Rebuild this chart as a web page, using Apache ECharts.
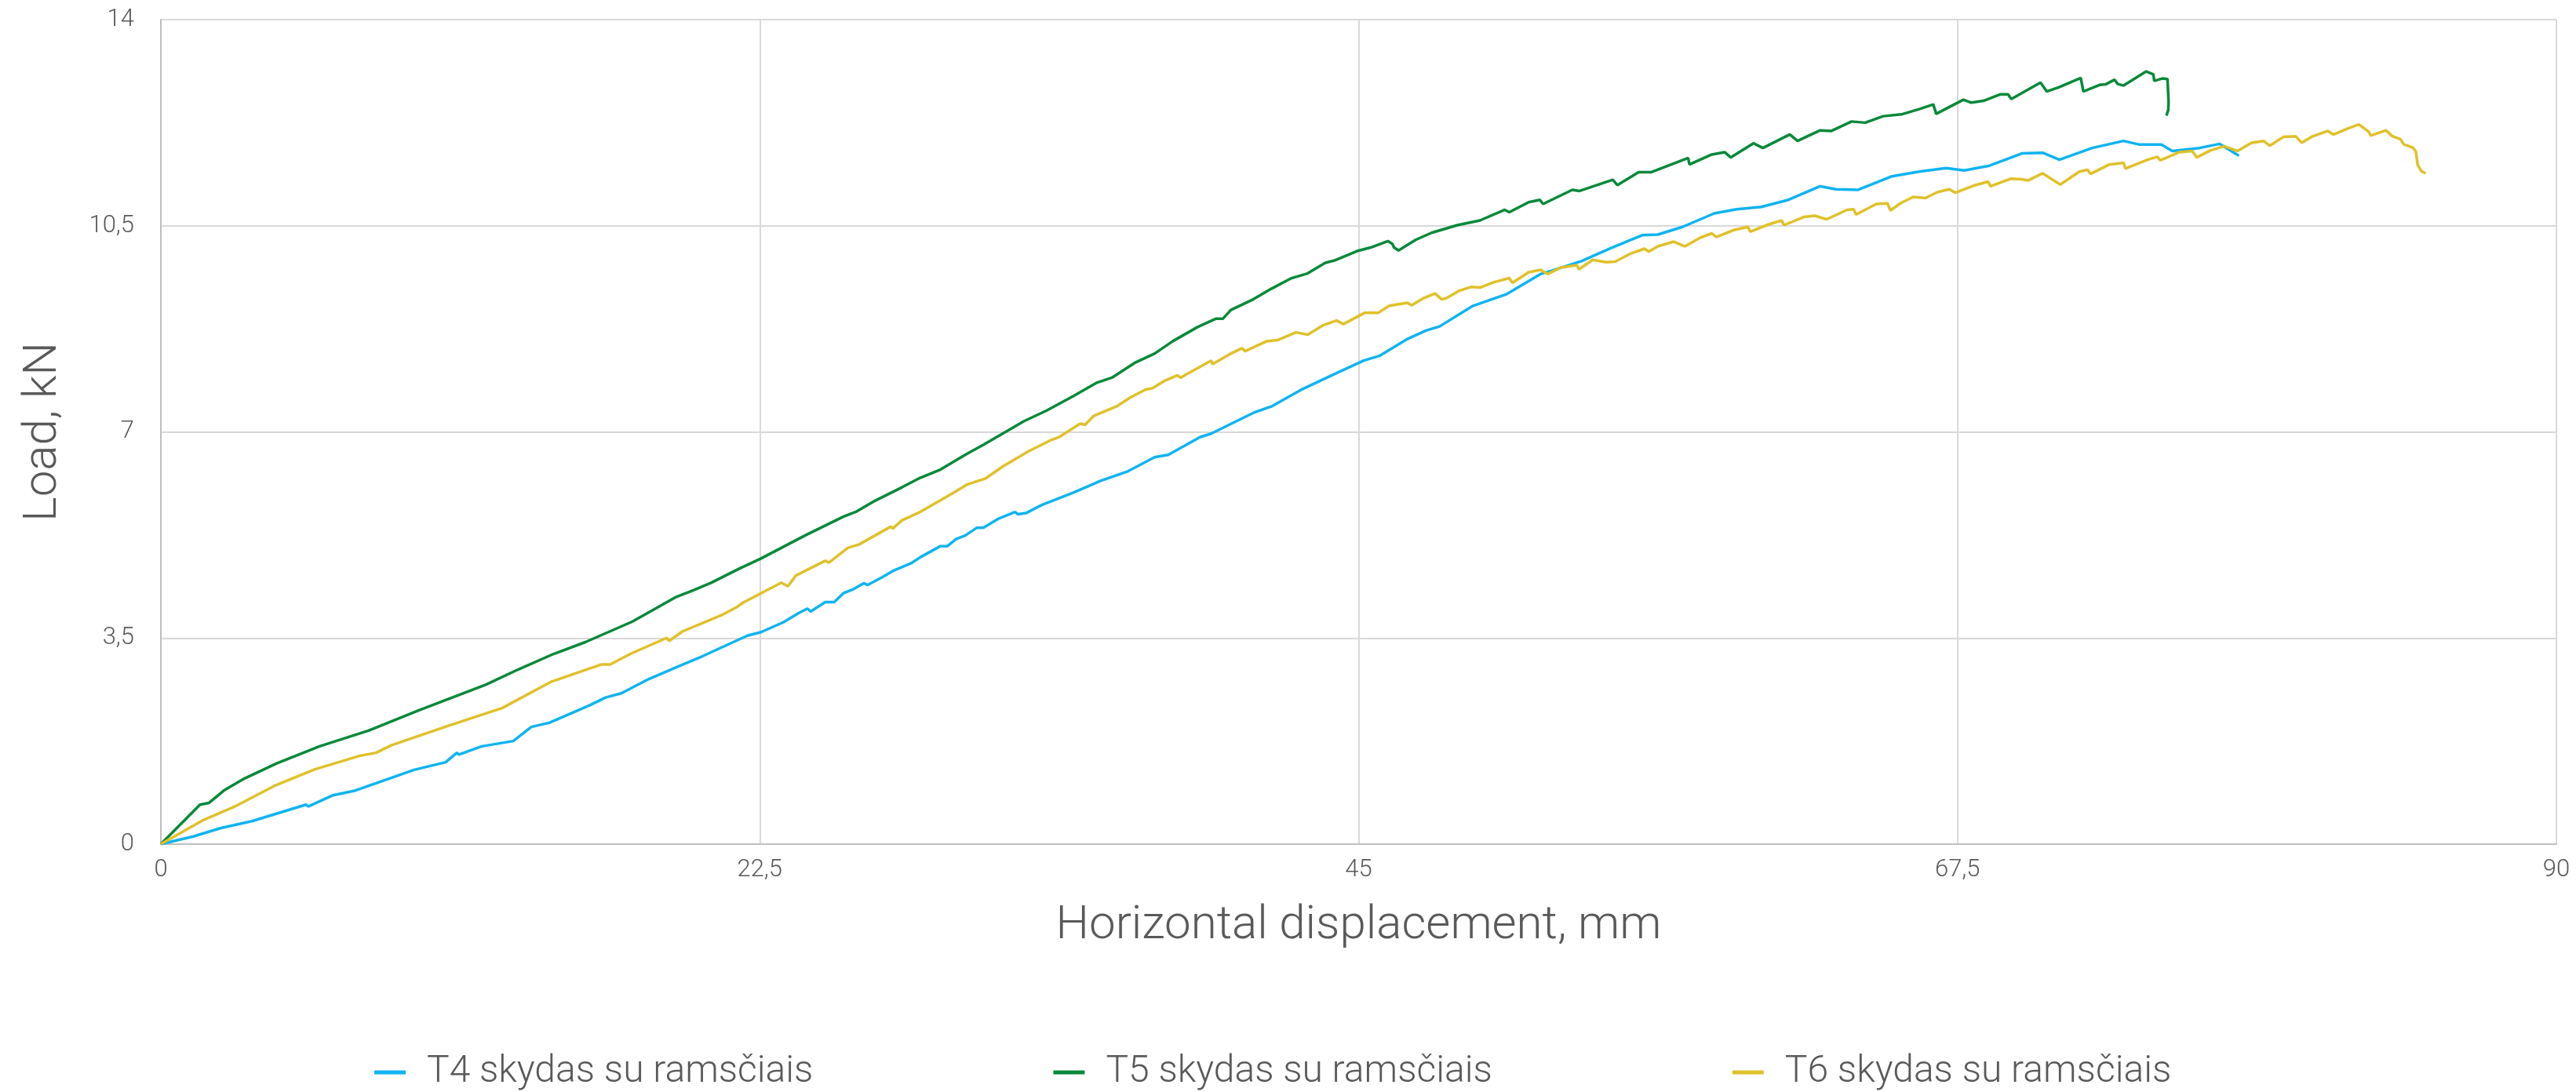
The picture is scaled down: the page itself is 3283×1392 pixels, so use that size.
<!DOCTYPE html>
<html>
<head>
<meta charset="utf-8">
<script src="https://cdn.jsdelivr.net/npm/echarts@6/dist/echarts.min.js"></script>
<style>
  html, body { margin: 0; padding: 0; background: #fff; }
  #chart { width: 3283px; height: 1392px; }
</style>
</head>
<body>
<div id="chart"></div>
<script>
const seriesNames = ['T4 skydas su ramsčiais', 'T5 skydas su ramsčiais', 'T6 skydas su ramsčiais'];
const xTicks = [0, 22.5, 45, 67.5, 90];
const yTicks = [0, 3.5, 7, 10.5, 14];

// [displacement mm, load kN]
const t4 = [[0,0],[1.22,0.13],[2.23,0.27],[3.42,0.39],[5.45,0.67],[5.55,0.64],[6.47,0.83],[7.31,0.91],[9.51,1.26],[10.7,1.39],[11.12,1.55],[11.2,1.52],[12.05,1.66],[13.24,1.75],[13.92,1.99],[14.59,2.06],[16.12,2.36],[16.71,2.49],[17.3,2.56],[18.32,2.8],[19.5,3.03],[20.35,3.19],[21.02,3.33],[22.04,3.54],[22.55,3.6],[23.4,3.77],[23.95,3.92],[24.29,4.0],[24.41,3.95],[24.96,4.11],[25.3,4.11],[25.64,4.26],[25.98,4.32],[26.41,4.43],[26.55,4.4],[27.09,4.53],[27.51,4.64],[28.19,4.77],[28.53,4.87],[29.29,5.06],[29.55,5.06],[29.88,5.18],[30.22,5.24],[30.65,5.37],[30.9,5.37],[31.49,5.53],[32.09,5.64],[32.2,5.6],[32.5,5.62],[33.1,5.76],[34.29,5.97],[35.31,6.17],[36.33,6.33],[37.34,6.57],[37.85,6.61],[39.04,6.91],[39.46,6.97],[41.08,7.33],[41.72,7.43],[42.82,7.71],[44.09,7.98],[45.19,8.21],[45.78,8.29],[46.8,8.57],[47.53,8.72],[48.04,8.79],[49.3,9.14],[50.57,9.34],[51.84,9.68],[52.27,9.74],[53.37,9.9],[54.47,10.12],[55.65,10.34],[56.24,10.35],[57.17,10.48],[58.36,10.71],[59.2,10.78],[60.13,10.82],[61.15,10.94],[62.34,11.17],[62.93,11.12],[63.77,11.11],[65.04,11.34],[66.06,11.42],[67.07,11.48],[67.75,11.44],[68.7,11.52],[69.94,11.73],[70.7,11.74],[71.33,11.62],[72.56,11.82],[73.74,11.94],[74.31,11.88],[75.16,11.88],[75.57,11.77],[76.59,11.82],[77.35,11.89],[77.68,11.8],[78.07,11.69]];

const t5 = [[0,0],[1.47,0.67],[1.81,0.7],[2.4,0.92],[3.08,1.1],[4.35,1.37],[5.96,1.66],[7.82,1.93],[9.68,2.27],[12.22,2.71],[13.4,2.96],[14.76,3.23],[15.95,3.43],[17.72,3.78],[19.33,4.19],[20.01,4.31],[20.69,4.44],[21.7,4.67],[22.55,4.85],[24.2,5.24],[25.64,5.56],[26.15,5.65],[26.83,5.83],[27.85,6.06],[28.53,6.22],[29.29,6.36],[30.22,6.61],[30.9,6.78],[31.74,7.0],[32.42,7.18],[33.27,7.36],[34.29,7.61],[35.14,7.83],[35.73,7.92],[36.58,8.17],[37.34,8.33],[38.02,8.54],[38.95,8.78],[39.63,8.92],[39.9,8.92],[40.2,9.07],[41.04,9.25],[41.72,9.43],[42.48,9.61],[43.08,9.69],[43.75,9.87],[44.09,9.91],[44.94,10.07],[45.45,10.13],[46.1,10.24],[46.27,10.19],[46.33,10.13],[46.5,10.08],[47.14,10.26],[47.74,10.38],[48.71,10.51],[49.56,10.59],[50.49,10.77],[50.66,10.73],[51.39,10.9],[51.81,10.94],[51.93,10.87],[53.03,11.11],[53.3,11.09],[54.55,11.28],[54.72,11.19],[55.52,11.41],[56.0,11.41],[57.38,11.65],[57.43,11.54],[58.27,11.71],[58.75,11.75],[58.98,11.66],[59.83,11.9],[60.19,11.82],[61.2,12.05],[61.49,11.94],[62.34,12.12],[62.76,12.11],[63.52,12.27],[64.03,12.25],[64.71,12.36],[65.39,12.39],[66.06,12.48],[66.59,12.56],[66.7,12.4],[67.72,12.64],[68.02,12.59],[68.47,12.62],[69.1,12.73],[69.4,12.73],[69.52,12.65],[70.62,12.93],[70.85,12.78],[71.3,12.85],[72.13,13.01],[72.23,12.78],[72.83,12.89],[73.06,12.9],[73.4,12.98],[73.51,12.91],[73.74,12.88],[74.59,13.12],[74.86,13.07],[74.89,12.96],[75.19,13.0],[75.39,12.99],[75.43,12.6],[75.42,12.47],[75.35,12.37]];

const t6 = [[0,0],[1.56,0.4],[2.74,0.63],[4.27,0.99],[5.79,1.27],[7.48,1.5],[8.08,1.55],[8.67,1.68],[10.87,2.02],[12.82,2.31],[14.68,2.76],[16.54,3.05],[16.88,3.05],[17.64,3.23],[19.0,3.5],[19.1,3.45],[19.59,3.61],[21.03,3.88],[21.62,4.02],[21.87,4.1],[22.55,4.26],[23.31,4.44],[23.56,4.38],[23.86,4.56],[24.96,4.81],[25.1,4.78],[25.81,5.03],[26.24,5.09],[27.42,5.39],[27.5,5.36],[27.85,5.5],[28.53,5.64],[29.8,5.97],[30.31,6.11],[30.99,6.21],[31.66,6.42],[32.6,6.67],[33.44,6.86],[33.78,6.92],[34.54,7.14],[34.72,7.12],[35.05,7.27],[35.9,7.43],[36.41,7.58],[37.0,7.72],[37.25,7.74],[37.68,7.86],[38.19,7.96],[38.32,7.92],[38.5,7.97],[39.46,8.21],[39.51,8.15],[40.2,8.33],[40.62,8.42],[40.74,8.37],[41.55,8.54],[41.97,8.56],[42.65,8.69],[43.08,8.65],[43.67,8.81],[44.17,8.89],[44.43,8.83],[45.22,9.02],[45.73,9.02],[46.15,9.14],[46.83,9.19],[47.0,9.15],[47.44,9.27],[47.87,9.35],[48.12,9.25],[48.3,9.27],[48.8,9.4],[49.22,9.46],[49.56,9.45],[50.07,9.54],[50.66,9.61],[50.78,9.53],[51.39,9.71],[51.84,9.75],[52.1,9.68],[52.6,9.79],[53.2,9.83],[53.28,9.76],[53.79,9.92],[54.3,9.88],[54.64,9.89],[55.23,10.03],[55.74,10.11],[55.9,10.06],[56.24,10.15],[56.84,10.23],[57.26,10.15],[57.85,10.3],[58.27,10.37],[58.44,10.31],[59.12,10.43],[59.63,10.48],[59.71,10.4],[60.39,10.52],[60.9,10.59],[60.98,10.51],[61.74,10.65],[62.13,10.67],[62.59,10.61],[63.35,10.77],[63.6,10.78],[63.69,10.69],[64.45,10.87],[64.87,10.88],[64.98,10.76],[65.39,10.89],[65.84,10.99],[66.29,10.97],[66.74,11.07],[67.19,11.12],[67.42,11.06],[68.17,11.19],[68.65,11.25],[68.74,11.17],[69.52,11.3],[69.9,11.29],[70.16,11.27],[70.7,11.39],[71.36,11.2],[72.08,11.42],[72.38,11.45],[72.5,11.38],[73.21,11.54],[73.74,11.57],[73.81,11.47],[74.64,11.62],[75.01,11.67],[75.12,11.61],[75.84,11.75],[76.32,11.77],[76.49,11.66],[77.01,11.78],[77.53,11.85],[78.02,11.77],[78.55,11.91],[79.0,11.94],[79.23,11.86],[79.75,12.01],[80.2,12.02],[80.43,11.91],[80.8,12.01],[81.41,12.11],[81.63,12.05],[82.16,12.15],[82.58,12.22],[82.94,12.1],[83.03,12.03],[83.59,12.12],[83.84,12.02],[84.14,11.97],[84.27,11.88],[84.6,11.83],[84.72,11.76],[84.79,11.53],[84.94,11.42],[85.09,11.39]];

const colors = ['#0fb4f0', '#08893a', '#e0c129'];
const font = 'Roboto, "Liberation Sans", sans-serif';
const comma = v => String(v).replace('.', ',');

const chart = echarts.init(document.getElementById('chart'));
chart.setOption({
  animation: false,
  color: colors,
  textStyle: { fontFamily: font, fontWeight: 300, color: '#595959' },
  grid: { left: 205, right: 25, top: 25, bottom: 316, containLabel: false },
  legend: {
    data: seriesNames,
    left: 472,
    top: 1338,
    icon: 'rect',
    itemWidth: 40,
    itemHeight: 5,
    itemGap: 306,
    textStyle: { fontSize: 48, fontFamily: font, fontWeight: 300, color: '#595959', padding: [0, 0, 0, 22] }
  },
  xAxis: {
    type: 'value',
    min: xTicks[0],
    max: xTicks[xTicks.length - 1],
    interval: xTicks[1] - xTicks[0],
    name: 'Horizontal displacement, mm',
    nameLocation: 'middle',
    nameGap: 75,
    nameTextStyle: { fontSize: 60, fontFamily: font, fontWeight: 300, color: '#595959' },
    axisLine: { show: true, lineStyle: { color: '#bfbfbf', width: 2 } },
    axisTick: { show: false },
    axisLabel: { fontSize: 31, margin: 18, color: '#595959', formatter: comma },
    splitLine: { show: true, lineStyle: { color: '#d9d9d9', width: 2 } }
  },
  yAxis: {
    type: 'value',
    min: yTicks[0],
    max: yTicks[yTicks.length - 1],
    interval: yTicks[1] - yTicks[0],
    name: 'Load, kN',
    nameLocation: 'middle',
    nameGap: 119,
    nameTextStyle: { fontSize: 60, fontFamily: font, fontWeight: 300, color: '#595959' },
    axisLine: { show: true, lineStyle: { color: '#bfbfbf', width: 2 } },
    axisTick: { show: false },
    axisLabel: { fontSize: 31, margin: 34, color: '#595959', formatter: comma },
    splitLine: { show: true, lineStyle: { color: '#d9d9d9', width: 2 } }
  },
  series: [t4, t5, t6].map((d, i) => ({
    name: seriesNames[i],
    type: 'line',
    data: d,
    showSymbol: false,
    symbol: 'none',
    lineStyle: { width: 3.5, color: colors[i] },
    itemStyle: { color: colors[i] }
  }))
});
</script>
</body>
</html>
